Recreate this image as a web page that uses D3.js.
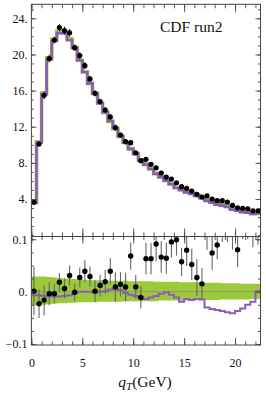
<!DOCTYPE html>
<html>
<head>
<meta charset="utf-8">
<script src="https://cdn.jsdelivr.net/npm/d3@7"></script>
<style>
  body { margin: 0; background: #fff; }
  svg text { font-family: "Liberation Serif", "DejaVu Serif", serif; fill: #111; }
</style>
</head>
<body>
<svg id="chart" width="266" height="396"></svg>
<script>
// bins of 0.5 GeV, centres
const binCenter = [0.25, 0.75, 1.25, 1.75, 2.25, 2.75, 3.25, 3.75, 4.25, 4.75,
    5.25, 5.75, 6.25, 6.75, 7.25, 7.75, 8.25, 8.75, 9.25, 9.75,
    10.25, 10.75, 11.25, 11.75, 12.25, 12.75, 13.25, 13.75, 14.25, 14.75,
    15.25, 15.75, 16.25, 16.75, 17.25, 17.75, 18.25, 18.75, 19.25, 19.75,
    20.25, 20.75, 21.25, 21.75, 22.25];
const binHalf = 0.25;

// CDF run2 data (upper panel)
const dataTop = [3.63, 10.09, 15.48, 19.54, 21.6, 22.97, 22.64, 22.4, 20.75, 19.87,
    18.76, 17.29, 15.7, 14.78, 13.85, 13.08, 11.9, 11.08, 10.34, 10.23,
    9.12, 8.24, 8.39, 7.84, 7.46, 6.88, 6.43, 6.21, 5.8, 5.36,
    5.18, 4.88, 4.52, 4.22, 4.36, 4.0, 3.81, 3.81, 3.67, 3.3,
    3.03, 2.97, 2.92, 2.7, 2.7];

// reference model (green) in the upper panel
const modelTop = [3.63, 10.33, 15.73, 19.62, 21.69, 22.56, 22.5, 21.73, 20.77, 19.35,
    18.06, 16.8, 15.68, 14.6, 13.59, 12.59, 11.79, 10.93, 10.25, 9.58,
    9.04, 8.33, 7.89, 7.38, 6.84, 6.45, 6.04, 5.67, 5.28, 5.07,
    4.8, 4.64, 4.4, 4.16, 3.91, 3.72, 3.5, 3.39, 3.25, 2.95,
    2.81, 2.61, 2.56, 2.4, 2.39];

// lower panel: relative deviations
const dataRel = [0.001, -0.023, -0.016, -0.004, -0.004, 0.018, 0.006, 0.031, -0.001, 0.027,
    0.039, 0.029, 0.001, 0.012, 0.019, 0.039, 0.009, 0.014, 0.009, 0.068,
    0.009, -0.011, 0.063, 0.063, 0.091, 0.066, 0.064, 0.095, 0.099, 0.057,
    0.079, 0.052, 0.027, 0.015, 0.115, 0.074, 0.089, 0.125, 0.13, 0.12,
    0.08, 0.14, 0.14, 0.125, 0.13];
const errRel = [0.046, 0.027, 0.029, 0.022, 0.018, 0.017, 0.019, 0.019, 0.017, 0.019,
    0.021, 0.019, 0.021, 0.021, 0.023, 0.025, 0.028, 0.023, 0.027, 0.026,
    0.023, 0.021, 0.03, 0.03, 0.033, 0.03, 0.03, 0.03, 0.03, 0.027,
    0.03, 0.03, 0.035, 0.03, 0.035, 0.032, 0.027, 0.03, 0.035, 0.04,
    0.033, 0.04, 0.04, 0.04, 0.04];
const purpleRel = [-0.007, -0.007, -0.008, -0.009, -0.009, -0.009, -0.008, -0.007, -0.003, 0.0,
    0.0, 0.0, -0.001, 0.0, 0.001, 0.004, 0.006, 0.003, -0.002, -0.006,
    -0.008, -0.011, -0.014, -0.011, -0.008, -0.004, -0.001, -0.006, -0.011, -0.019,
    -0.014, -0.016, -0.014, -0.015, -0.03, -0.033, -0.035, -0.037, -0.039, -0.041,
    -0.037, -0.032, -0.025, -0.019, 0.001];
const bandHi = [0.029, 0.029, 0.029, 0.028, 0.027, 0.026, 0.025, 0.025, 0.024, 0.024,
    0.023, 0.023, 0.022, 0.022, 0.022, 0.021, 0.021, 0.021, 0.021, 0.02,
    0.02, 0.02, 0.02, 0.02, 0.019, 0.019, 0.019, 0.019, 0.019, 0.018,
    0.018, 0.018, 0.018, 0.017, 0.017, 0.017, 0.017, 0.016, 0.016, 0.016,
    0.016, 0.015, 0.015, 0.015, 0.015];
const bandLo = [-0.026, -0.026, -0.025, -0.024, -0.023, -0.022, -0.022, -0.021, -0.021, -0.02,
    -0.02, -0.02, -0.02, -0.019, -0.019, -0.019, -0.019, -0.019, -0.018, -0.018,
    -0.018, -0.018, -0.018, -0.018, -0.018, -0.017, -0.017, -0.017, -0.017, -0.017,
    -0.017, -0.016, -0.016, -0.016, -0.016, -0.016, -0.016, -0.015, -0.015, -0.015,
    -0.015, -0.015, -0.015, -0.014, -0.014];

const xMajor = [0, 5, 10, 15, 20];
const yTopMajor = [4, 8, 12, 16, 20, 24];
const yBotMajor = [-0.1, 0, 0.1];

const green = "#9cc93a", purple = "#8d5cb8", frameCol = "#444";

let left = 31.4, right = 260.5;
let topY0 = 4.3, split = 236.5, botY1 = 345;

let x = d3.scaleLinear().domain([0, 22.5]).range([left, right]);
let yTop = d3.scaleLinear().domain([-0.15, 25.55]).range([split, topY0]);
let yBot = d3.scaleLinear().domain([-0.1017, 0.1053]).range([botY1, split]);

let svg = d3.select("#chart");

svg.append("clipPath").attr("id", "clipTop").append("rect")
    .attr("x", left).attr("y", topY0).attr("width", right - left).attr("height", split - topY0);
svg.append("clipPath").attr("id", "clipBot").append("rect")
    .attr("x", left).attr("y", split).attr("width", right - left).attr("height", botY1 - split);

// histogram outline: two points per bin
function steps(vals) {
    let pts = [];
    vals.forEach((v, i) => {
        pts.push([binCenter[i] - binHalf, v]);
        pts.push([binCenter[i] + binHalf, v]);
    });
    return pts;
}

// ---- upper panel
let gTop = svg.append("g").attr("clip-path", "url(#clipTop)");
let lineTop = d3.line().x(d => x(d[0])).y(d => yTop(d[1]));

gTop.append("path")
    .attr("d", lineTop(steps(modelTop)))
    .attr("fill", "none").attr("stroke", green).attr("stroke-width", 3.6);

gTop.append("path")
    .attr("d", lineTop(steps(modelTop.map((m, i) => m * (1 + purpleRel[i])))))
    .attr("fill", "none").attr("stroke", purple).attr("stroke-width", 2.6);

gTop.selectAll(".errTop").data(dataTop).enter().append("line")
    .attr("x1", (d, i) => x(binCenter[i])).attr("x2", (d, i) => x(binCenter[i]))
    .attr("y1", (d, i) => yTop(d * (1 + errRel[i])))
    .attr("y2", (d, i) => yTop(d * (1 - errRel[i])))
    .attr("stroke", "#111").attr("stroke-width", 1);

gTop.selectAll(".dotTop").data(dataTop).enter().append("circle")
    .attr("cx", (d, i) => x(binCenter[i])).attr("cy", d => yTop(d))
    .attr("r", 2.6).attr("fill", "#000");

// ---- lower panel
let gBot = svg.append("g").attr("clip-path", "url(#clipBot)");

let bandPts = [];
bandHi.forEach((h, i) => {
    bandPts.push([binCenter[i] - binHalf, bandLo[i], h]);
    bandPts.push([binCenter[i] + binHalf, bandLo[i], h]);
});
gBot.append("path")
    .attr("d", d3.area().x(d => x(d[0])).y0(d => yBot(d[1])).y1(d => yBot(d[2]))(bandPts))
    .attr("fill", green);

gBot.append("line")
    .attr("x1", left).attr("x2", right).attr("y1", yBot(0)).attr("y2", yBot(0))
    .attr("stroke", "#8a8a8a").attr("stroke-width", 0.8);

gBot.append("path")
    .attr("d", d3.line().x(d => x(d[0])).y(d => yBot(d[1]))(steps(purpleRel)))
    .attr("fill", "none").attr("stroke", purple).attr("stroke-width", 2);

gBot.selectAll(".errBot").data(dataRel).enter().append("line")
    .attr("x1", (d, i) => x(binCenter[i])).attr("x2", (d, i) => x(binCenter[i]))
    .attr("y1", (d, i) => yBot(d + errRel[i]))
    .attr("y2", (d, i) => yBot(d - errRel[i]))
    .attr("stroke", "#666").attr("stroke-width", 1.1);

gBot.selectAll(".dotBot").data(dataRel).enter().append("circle")
    .attr("cx", (d, i) => x(binCenter[i])).attr("cy", d => yBot(d))
    .attr("r", 2.7).attr("fill", "#000");

// ---- frames and ticks
function ticks(axis, pos, values, size, fmt, pad) {
    let g = svg.append("g")
        .attr("transform", pos)
        .call(axis.tickValues(values).tickSize(-size).tickSizeOuter(0)
            .tickPadding(pad || 3).tickFormat(fmt || ""));
    g.select(".domain").remove();
    g.selectAll("line").attr("stroke", frameCol).attr("stroke-width", 0.9);
    g.selectAll("text").attr("font-size", 12).attr("fill", "#111")
        .attr("font-family", "Liberation Serif, DejaVu Serif, serif");
    return g;
}

let xMinor = d3.range(0, 23, 1);
let yTopMinor = d3.range(0, 26, 1);
let yBotMinor = d3.range(-0.1, 0.101, 0.025);

// upper panel
ticks(d3.axisBottom(x), `translate(0,${split})`, xMinor, 4);
ticks(d3.axisBottom(x), `translate(0,${split})`, xMajor, 8);
ticks(d3.axisTop(x), `translate(0,${topY0})`, xMinor, 4);
ticks(d3.axisTop(x), `translate(0,${topY0})`, xMajor, 8);
ticks(d3.axisLeft(yTop), `translate(${left},0)`, yTopMinor, 2.5);
ticks(d3.axisLeft(yTop), `translate(${left},0)`, yTopMajor, 5, d => d + ".", 4);
ticks(d3.axisRight(yTop), `translate(${right},0)`, yTopMinor, 2.5);
ticks(d3.axisRight(yTop), `translate(${right},0)`, yTopMajor, 5);

// lower panel
ticks(d3.axisTop(x), `translate(0,${split})`, xMinor, 3.5);
ticks(d3.axisTop(x), `translate(0,${split})`, xMajor, 7);
ticks(d3.axisBottom(x), `translate(0,${botY1})`, xMinor, 3.5);
ticks(d3.axisBottom(x), `translate(0,${botY1})`, xMajor, 7, d => d, 13);
ticks(d3.axisLeft(yBot), `translate(${left},0)`, yBotMinor, 2.5);
ticks(d3.axisLeft(yBot), `translate(${left},0)`, yBotMajor, 5,
    d => d === 0 ? "0." : (d < 0 ? "\u2212" + Math.abs(d) : "" + d), 4);
ticks(d3.axisRight(yBot), `translate(${right},0)`, yBotMinor, 2.5);
ticks(d3.axisRight(yBot), `translate(${right},0)`, yBotMajor, 5);

svg.append("rect").attr("x", left).attr("y", topY0)
    .attr("width", right - left).attr("height", split - topY0)
    .attr("fill", "none").attr("stroke", frameCol).attr("stroke-width", 1);
svg.append("rect").attr("x", left).attr("y", split)
    .attr("width", right - left).attr("height", botY1 - split)
    .attr("fill", "none").attr("stroke", frameCol).attr("stroke-width", 1);

// labels
svg.append("text").attr("x", 160).attr("y", 31.5)
    .attr("font-size", 15.5).text("CDF run2");

let xt = svg.append("text").attr("x", 145).attr("y", 387)
    .attr("text-anchor", "middle").attr("font-size", 15.5);
xt.append("tspan").attr("font-style", "italic").text("q");
xt.append("tspan").attr("font-style", "italic").attr("font-size", 11).attr("dy", 3).text("T");
xt.append("tspan").attr("dy", -3).text("(GeV)");
</script>
</body>
</html>
